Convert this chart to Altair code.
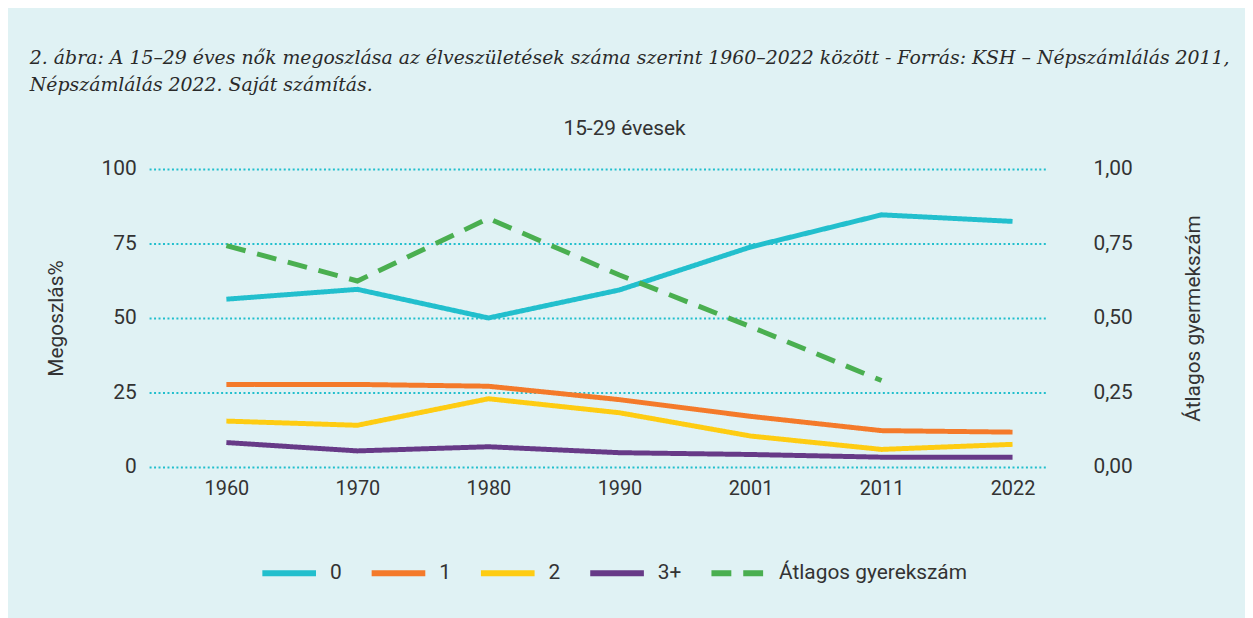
import altair as alt
import pandas as pd

years = ["1960", "1970", "1980", "1990", "2001", "2011", "2022"]
s0 = [56.3, 59.6, 50.0, 59.4, 73.8, 84.6, 82.4]
s1 = [27.7, 27.7, 27.1, 22.6, 17.0, 12.2, 11.7]
s2 = [15.4, 14.0, 22.9, 18.2, 10.4, 5.9, 7.6]
s3 = [8.2, 5.4, 6.8, 4.8, 4.2, 3.3, 3.3]
avg_years = ["1960", "1970", "1980", "1990", "2001", "2011"]
avg = [0.743, 0.624, 0.834, 0.644, 0.471, 0.29]

series_names = ["0", "1", "2", "3+", "Átlagos gyerekszám"]
colors = ["#22BFCD", "#F47A2A", "#FECC12", "#673A87", "#4AAF50"]
dashes = [[1, 0], [1, 0], [1, 0], [1, 0], [20, 12]]

rows = []
for name, vals in zip(series_names[:4], [s0, s1, s2, s3]):
    for y, v in zip(years, vals):
        rows.append({"year": y, "idx": years.index(y), "series": name, "value": v})
left_df = pd.DataFrame(rows)
right_df = pd.DataFrame({"year": avg_years, "idx": [years.index(y) for y in avg_years],
                         "series": series_names[4], "value": avg})

year_array = "[" + ",".join("'" + y + "'" for y in years) + "]"
xscale = alt.Scale(domain=[-0.59, 6.25], nice=False, zero=False)
color = alt.Color("series:N", scale=alt.Scale(domain=series_names, range=colors),
                  legend=alt.Legend(title=None))
dash = alt.StrokeDash("series:N", scale=alt.Scale(domain=series_names, range=dashes),
                      legend=alt.Legend(title=None))

FONT = "Roboto"

left = alt.Chart(left_df).mark_line(strokeWidth=5).encode(
    x=alt.X("idx:Q", scale=xscale,
            axis=alt.Axis(title=None, labelAngle=0, domain=False, ticks=False,
                          values=list(range(len(years))),
                          labelExpr=year_array + "[datum.value]",
                          labelPadding=12, labelFontSize=20, grid=False)),
    y=alt.Y("value:Q", scale=alt.Scale(domain=[0, 100], nice=False),
            axis=alt.Axis(title="Megoszlás%", orient="left", values=[0, 25, 50, 75, 100],
                          domain=False, ticks=False, labelPadding=13, titlePadding=35,
                          grid=True, gridColor="#22BFCD", gridDash=[2, 2.5], gridWidth=2,
                          labelFontSize=21, titleFontSize=21, titleFontWeight="normal")),
    color=color,
    strokeDash=dash,
)

right = alt.Chart(right_df).mark_line(strokeWidth=5).encode(
    x=alt.X("idx:Q", scale=xscale,
            axis=alt.Axis(title="15-29 évesek", orient="top", labels=False, ticks=False,
                          domain=False, grid=False, titleFontSize=21, titleFontWeight="normal",
                          titleX=478, titleY=-41, titleBaseline="middle", titleAlign="center")),
    y=alt.Y("value:Q", scale=alt.Scale(domain=[0, 1], nice=False),
            axis=alt.Axis(title="Átlagos gyermekszám", orient="right",
                          values=[0, 0.25, 0.5, 0.75, 1.0],
                          labelExpr="replace(format(datum.value, '.2f'), '.', ',')",
                          domain=False, ticks=False, labelPadding=48, titlePadding=72,
                          titleAngle=270, grid=False,
                          labelFontSize=21, titleFontSize=21, titleFontWeight="normal")),
    color=color,
    strokeDash=dash,
)

chart = alt.layer(left, right).resolve_scale(y="independent").resolve_axis(
    x="independent", y="independent"
).properties(
    width=902,
    height=300,
    autosize=alt.AutoSizeParams(type="none"),
    padding={"left": 142, "top": 160, "right": 201, "bottom": 150},
    background="#E0F2F4",
    title=alt.TitleParams(
        text=["2. ábra: A 15–29 éves nők megoszlása az élveszületések száma szerint 1960–2022 között - Forrás: KSH – Népszámlálás 2011,",
              "Népszámlálás 2022. Saját számítás."],
        anchor="start", frame="group", dx=-120, font="DejaVu Serif", fontStyle="italic",
        fontWeight="normal", fontSize=19, color="#2a2a2a", lineHeight=28, offset=22,
    ),
).configure_view(stroke=None).configure_axis(
    labelFont=FONT, titleFont=FONT, labelColor="#333333", titleColor="#333333",
).configure_legend(
    orient="none", legendX=111, legendY=377, direction="horizontal",
    symbolType="stroke", symbolStrokeWidth=6, symbolSize=2916,
    labelFont=FONT, labelFontSize=21, labelColor="#333333", labelLimit=0,
    labelOffset=11, columnPadding=18, columns=5, gridAlign="none",
)

chart.save("out.html", embed_options={"renderer": "svg", "actions": False})
